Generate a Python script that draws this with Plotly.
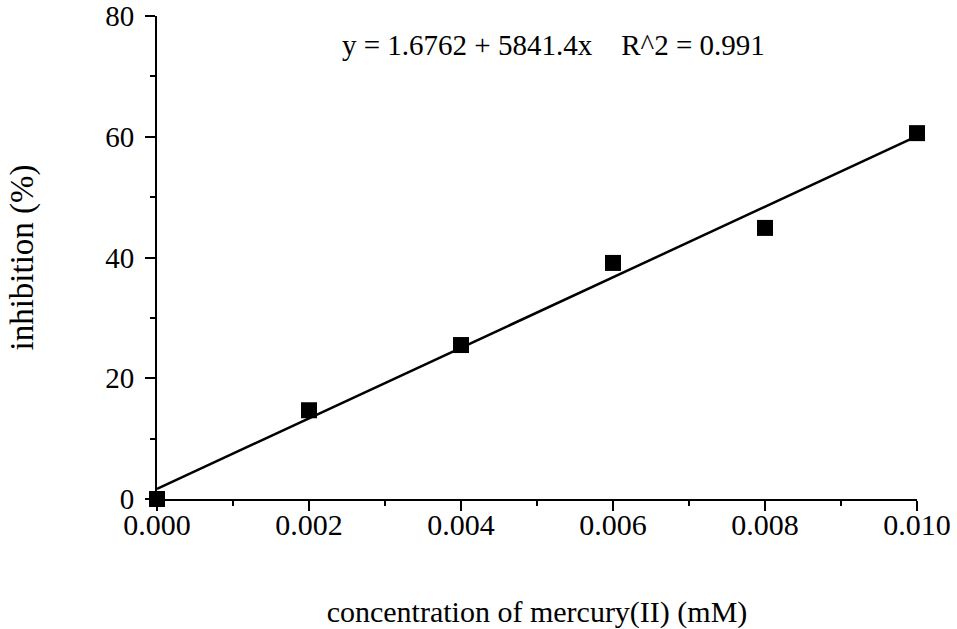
import plotly.graph_objects as go

conc_mM = [0.000, 0.002, 0.004, 0.006, 0.008, 0.010]
inhibition_pct = [0.0, 14.7, 25.5, 39.1, 44.9, 60.6]
fit_intercept = 1.6762
fit_slope = 5841.4
fit_r2 = 0.991
x_ticks = [0.000, 0.002, 0.004, 0.006, 0.008, 0.010]
x_tick_labels = ["0.000", "0.002", "0.004", "0.006", "0.008", "0.010"]
y_ticks = [0, 20, 40, 60, 80]

FONT = "Liberation Serif, Times New Roman, serif"

fit_x = [conc_mM[0], conc_mM[-1]]
fit_y = [fit_intercept + fit_slope * v for v in fit_x]

fig = go.Figure()
fig.add_trace(go.Scatter(x=fit_x, y=fit_y, mode="lines",
                         line=dict(color="black", width=2.5),
                         cliponaxis=False, showlegend=False, hoverinfo="skip"))
fig.add_trace(go.Scatter(x=conc_mM, y=inhibition_pct, mode="markers",
                         marker=dict(symbol="square", size=16, color="black"),
                         cliponaxis=False, showlegend=False))

fig.add_annotation(x=0.00522, y=75.2, xref="x", yref="y",
                   text=f"y = {fit_intercept} + {fit_slope}x&nbsp;&nbsp;&nbsp;&nbsp;R^2 = {fit_r2}",
                   showarrow=False, font=dict(family=FONT, size=29, color="black"))

fig.update_layout(
    width=957, height=629,
    margin=dict(l=157, r=40, t=16, b=130),
    plot_bgcolor="white", paper_bgcolor="white",
    font=dict(family=FONT, size=30, color="black"),
    xaxis=dict(range=[0, 0.010], tickvals=x_ticks, ticktext=x_tick_labels,
               automargin=False, ticklabelstandoff=-12,
               showgrid=False, zeroline=False, showline=True, linecolor="black",
               linewidth=2, ticks="outside", ticklen=10, tickwidth=2, tickcolor="black",
               minor=dict(dtick=0.001, ticks="outside", ticklen=5, tickwidth=2,
                          tickcolor="black", showgrid=False),
               tickfont=dict(family=FONT, size=30),
               title=dict(text="concentration of mercury(II) (mM)", standoff=62,
                          font=dict(family=FONT, size=30))),
    yaxis=dict(range=[0, 80], tickvals=y_ticks,
               automargin=False, ticklabelstandoff=5,
               showgrid=False, zeroline=False, showline=True, linecolor="black",
               linewidth=2, ticks="outside", ticklen=10, tickwidth=2, tickcolor="black",
               minor=dict(dtick=10, ticks="outside", ticklen=5, tickwidth=2,
                          tickcolor="black", showgrid=False),
               tickfont=dict(family=FONT, size=29),
               title=dict(text="inhibition (%)", standoff=62,
                          font=dict(family=FONT, size=33))),
)

fig.write_html("out.html",
               config={"displayModeBar": False},
               post_script="document.body.style.margin='0';document.body.style.padding='0';")
